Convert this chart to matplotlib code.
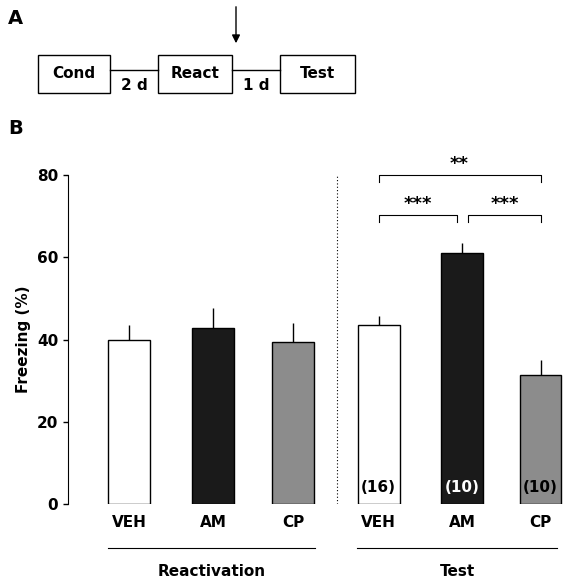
import matplotlib
matplotlib.use("Agg")
import matplotlib.pyplot as plt
from matplotlib.patches import Rectangle

groups = ["VEH", "AM", "CP", "VEH", "AM", "CP"]
values = [40.0, 42.7, 39.5, 43.5, 61.0, 31.3]
errors = [3.5, 5.0, 4.5, 2.2, 2.5, 3.7]
ns = [None, None, None, "(16)", "(10)", "(10)"]
colors = ["white", "#1a1a1a", "#8c8c8c", "white", "#1a1a1a", "#8c8c8c"]
ncolors = ["black", "white", "black", "black", "white", "black"]
pos = [0, 1, 1.95, 2.97, 3.97, 4.9]

W, H = 564, 585
fig = plt.figure(figsize=(5.64, 5.85), dpi=100)
def fx(px): return px / W
def fy(py): return 1 - py / H

# Panel A
fig.text(fx(8), fy(18), "A", fontsize=14, fontweight="bold", va="center")
fig.text(fx(8), fy(128), "B", fontsize=14, fontweight="bold", va="center")
boxes = [("Cond", 38, 110), ("React", 158, 232), ("Test", 280, 355)]
for lab, x0, x1 in boxes:
    fig.patches.append(Rectangle((fx(x0), fy(93)), fx(x1 - x0), (93 - 55) / H,
                                 transform=fig.transFigure, fill=False, lw=1, ec="black"))
    fig.text(fx((x0 + x1) / 2), fy(73), lab, ha="center", va="center", fontsize=11, fontweight="bold")
for (a, b) in [(110, 158), (232, 280)]:
    fig.add_artist(plt.Line2D([fx(a), fx(b)], [fy(70), fy(70)], transform=fig.transFigure, color="black", lw=1))
fig.text(fx(134), fy(86), "2 d", ha="center", va="center", fontsize=11, fontweight="bold")
fig.text(fx(256), fy(86), "1 d", ha="center", va="center", fontsize=11, fontweight="bold")
fig.add_artist(matplotlib.patches.FancyArrowPatch((fx(236), fy(4)), (fx(236), fy(46)),
               transform=fig.transFigure, arrowstyle="-|>", mutation_scale=12, color="black", lw=1))

ax = fig.add_axes([fx(68), fy(504), 1 - fx(68), (504 - 175) / H])
ax.bar(pos, values, width=0.5, color=colors, edgecolor="black", linewidth=1, zorder=2)
ax.errorbar(pos, values, yerr=[[0]*6, errors], fmt="none", ecolor="black", elinewidth=1, capsize=0, zorder=1)
for p, n, c in zip(pos, ns, ncolors):
    if n:
        ax.text(p, 4, n, ha="center", va="center", fontsize=11, fontweight="bold", color=c)
ax.set_xlim(-0.73, 5.18)
ax.set_ylim(0, 80)
ax.set_yticks([0, 20, 40, 60, 80])
ax.tick_params(axis="y", labelsize=11, width=1)
for t in ax.get_yticklabels():
    t.set_fontweight("bold")
ax.set_ylabel("Freezing (%)", fontsize=11, fontweight="bold")
ax.set_xticks([])
for s in ["top", "right", "bottom"]:
    ax.spines[s].set_visible(False)
ax.axvline(2.48, color="black", lw=0.8, ls=(0, (1, 2)))
for p, g in zip(pos, groups):
    ax.text(p, -4.5, g, ha="center", va="center", fontsize=11, fontweight="bold", clip_on=False)

def bracket(x0, x1, y, txt):
    ax.plot([x0, x0, x1, x1], [y - 1.8, y, y, y - 1.8], color="black", lw=0.8, clip_on=False)
    ax.text((x0 + x1) / 2, y + 0.5, txt, ha="center", va="bottom", fontsize=13, fontweight="bold", clip_on=False)
bracket(pos[3], pos[5], 80, "**")
bracket(pos[3], pos[4] - 0.07, 70.3, "***")
bracket(pos[4] + 0.07, pos[5], 70.3, "***")

for (a, b), lab in [((-0.25, 2.22), "Reactivation"), ((2.72, 5.1), "Test")]:
    fig.add_artist(plt.Line2D([fx(129 + a * 84), fx(129 + b * 84)], [fy(548), fy(548)],
                              transform=fig.transFigure, color="black", lw=0.8))
    fig.text(fx(129 + (a + b) / 2 * 84), fy(572), lab, ha="center", va="center", fontsize=11, fontweight="bold")

fig.savefig("out.png", dpi=100)
